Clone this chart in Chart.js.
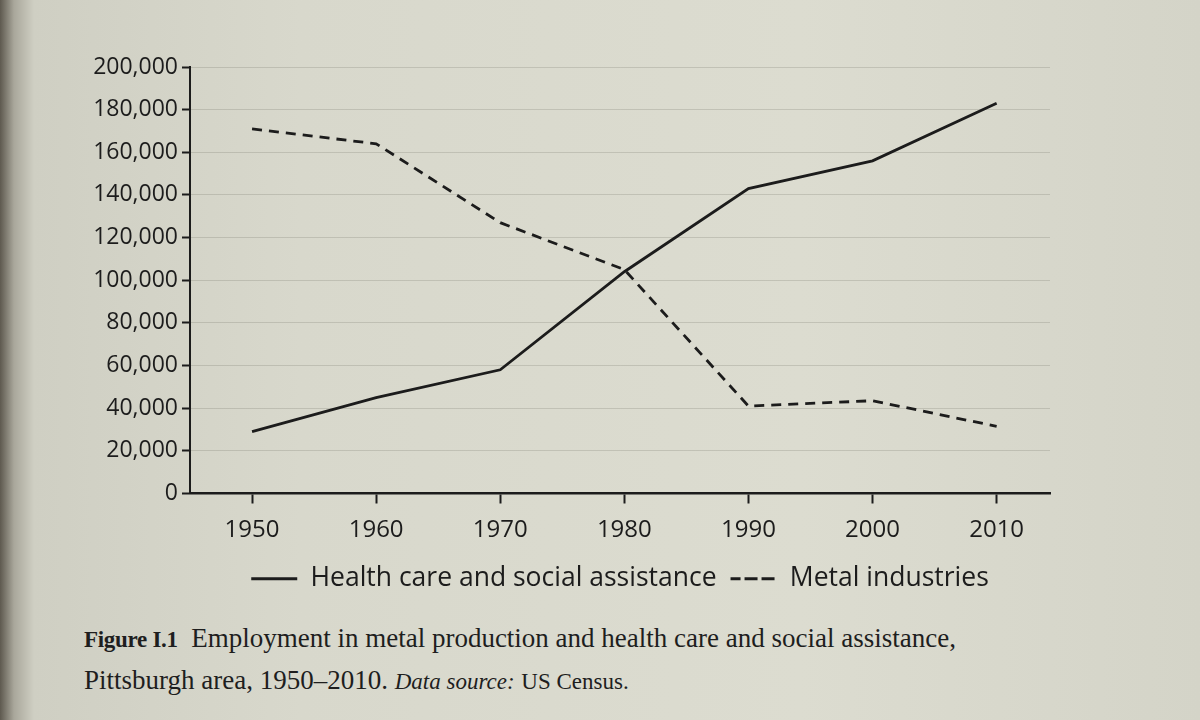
<!DOCTYPE html>
<html>
<head>
<meta charset="utf-8">
<script src="https://cdn.jsdelivr.net/npm/chart.js@4"></script>
<style>
  html, body { margin: 0; padding: 0; }
  body {
    width: 1200px; height: 720px; overflow: hidden; position: relative;
    background: linear-gradient(90deg, #5e594f 0px, #a9a79b 14px, #cfcfc3 34px, #d8d8cc 300px, #dcdcd0 800px, #d4d4c8 1200px);
  }
  #wrap { position: absolute; left: 0; top: 0; width: 1200px; height: 612px; }
  .cap {
    position: absolute; left: 84px; font-family: "Liberation Serif", "DejaVu Serif", serif;
    font-size: 27px; color: #1e1e1e; white-space: nowrap;
  }
  .fig { font-weight: bold; font-size: 23px; letter-spacing: -0.3px; }
</style>
</head>
<body>
<div id="wrap"><canvas id="c"></canvas></div>
<div class="cap" style="top:623px;"><span class="fig">Figure I.1</span>&nbsp; Employment in metal production and health care and social assistance,</div>
<div class="cap" style="top:665px;">Pittsburgh area, 1950–2010. <i style="font-size:23px;">Data source:</i> <span style="font-size:23px;">US Census.</span></div>
<script>
const years = [1950, 1960, 1970, 1980, 1990, 2000, 2010];
const healthCare = [29000, 45000, 58000, 104000, 143000, 156000, 183000];
const metalIndustries = [171000, 164000, 127000, 105000, 41000, 43500, 31500];
const yTicks = [0, 20000, 40000, 60000, 80000, 100000, 120000, 140000, 160000, 180000, 200000];
const seriesNames = ['Health care and social assistance', 'Metal industries'];

const ink = '#1c1c1c';
const fam = '"Open Sans", "Noto Sans", sans-serif';

new Chart(document.getElementById('c'), {
  type: 'line',
  data: {
    datasets: [
      {
        label: seriesNames[0],
        data: years.map((y, i) => ({ x: y, y: healthCare[i] })),
        borderColor: ink, backgroundColor: 'rgba(0,0,0,0)',
        borderWidth: 2.8, pointRadius: 0, tension: 0
      },
      {
        label: seriesNames[1],
        data: years.map((y, i) => ({ x: y, y: metalIndustries[i] })),
        borderColor: ink, backgroundColor: 'rgba(0,0,0,0)',
        borderWidth: 2.8, borderDash: [10, 7], pointRadius: 0, tension: 0
      }
    ]
  },
  options: {
    responsive: true, maintainAspectRatio: false, animation: false,
    layout: { padding: { top: 67, right: 150, left: 0, bottom: 10 } },
    plugins: {
      tooltip: { enabled: false },
      legend: {
        position: 'bottom', fullSize: false,
        labels: {
          color: ink, boxWidth: 46, boxHeight: 0, padding: 14,
          font: { family: fam, size: 26.5 }
        }
      }
    },
    scales: {
      x: {
        type: 'linear', min: 1945, max: 2014.3,
        afterBuildTicks: s => { s.ticks = years.map(v => ({ value: v })); },
        afterFit: s => { s.height = 58; },
        ticks: { color: ink, font: { family: fam, size: 24 }, padding: 12, callback: v => String(v), maxRotation: 0 },
        grid: { drawOnChartArea: false, drawTicks: true, tickLength: 10, tickColor: ink, tickWidth: 2 },
        border: { color: ink, width: 2.5 }
      },
      y: {
        min: 0, max: 200000,
        afterBuildTicks: s => { s.ticks = yTicks.map(v => ({ value: v })); },
        afterFit: s => { s.width = 190; },
        ticks: { color: ink, font: { family: fam, size: 23 }, padding: 4, callback: v => v.toLocaleString('en-US') },
        grid: { color: 'rgba(60,60,50,0.16)', lineWidth: 1, tickLength: 8, tickColor: ink, tickWidth: 2 },
        border: { color: ink, width: 2 }
      }
    }
  }
});
</script>
</body>
</html>
